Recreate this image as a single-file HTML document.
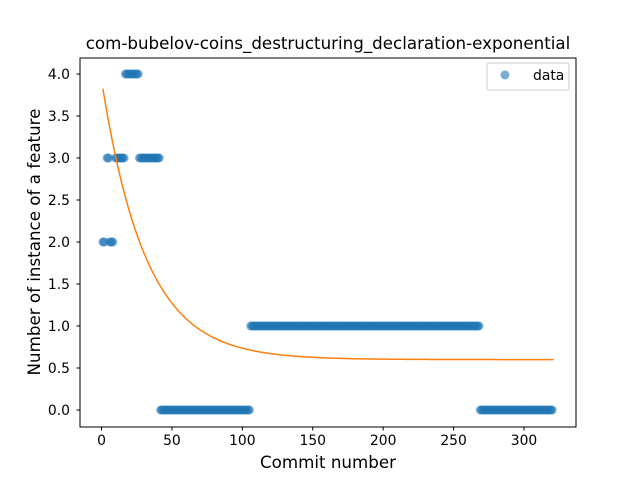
<!DOCTYPE html>
<html><head><meta charset="utf-8"><style>body{margin:0;background:#fff}svg{display:block;font-family:"DejaVu Sans","Liberation Sans",sans-serif}</style></head>
<body>
<svg id="chart" width="640" height="480"></svg>
<script>
const runStarts = [1, 4, 6, 10, 17, 27, 42, 106, 269];
const runEnds   = [2, 5, 8, 16, 26, 41, 105, 268, 320];
const runValues = [2, 3, 2, 3, 4, 3, 0, 1, 0];
const fitA = 3.33, fitB = 0.032, fitC = 0.6;
const xTicks = [0, 50, 100, 150, 200, 250, 300];
const yTicks = [0, 0.5, 1, 1.5, 2, 2.5, 3, 3.5, 4];
const yTickLabels = ["0.0","0.5","1.0","1.5","2.0","2.5","3.0","3.5","4.0"];

const L=80,R=576,T=58,B=427;
const xs=v=>101.5+v*(524-101.5)/300;
const ys=v=>410-v*84;
const svg=document.getElementById('chart');
const NS='http://www.w3.org/2000/svg';
function mk(tag,attrs,parent){const e=document.createElementNS(NS,tag);for(const k in attrs)e.setAttribute(k,attrs[k]);(parent||svg).appendChild(e);return e;}

const pts=mk('g',{});


for(let r=0;r<runStarts.length;r++){
  for(let c=runStarts[r];c<=runEnds[r];c++){
    const p=mk('circle',{cx:xs(c),cy:ys(runValues[r]),r:4.5,fill:'#1f77b4','fill-opacity':0.6},pts);
    
    
  }
}
let d='';
for(let x=1;x<=321;x+=1){const y=fitA*Math.exp(-fitB*x)+fitC;d+=(x===1?'M':'L')+xs(x).toFixed(2)+','+ys(y).toFixed(2);}
const fit=mk('path',{d:d,fill:'none',stroke:'#ff7f0e','stroke-width':1.5});



const frame=mk('rect',{x:L,y:T,width:R-L,height:B-T,fill:'none',stroke:'#000','stroke-width':1});



xTicks.forEach(t=>{
  const x=xs(t);
  mk('line',{x1:x,x2:x,y1:B,y2:B+3.5,stroke:'#000'});
  const tx=mk('text',{x:x,y:B+18,'text-anchor':'middle','font-size':13.9});
  tx.textContent=t;
  
  
});
yTicks.forEach((t,i)=>{
  const y=ys(t);
  mk('line',{x1:L-3.5,x2:L,y1:y,y2:y,stroke:'#000'});
  const tx=mk('text',{x:L-10,y:y+5,'text-anchor':'end','font-size':13.9});
  tx.textContent=yTickLabels[i];
  
  
});
</script>
<div style="position:absolute;left:0;top:0;width:640px;height:480px;pointer-events:none">
<svg width="640" height="480" style="font-family:'DejaVu Sans','Liberation Sans',sans-serif">
<text x="328" y="49" text-anchor="middle" font-size="16.7">com-bubelov-coins_destructuring_declaration-exponential</text>
<text x="328" y="468" text-anchor="middle" font-size="16.7">Commit number</text>
<text transform="translate(40,242) rotate(-90)" text-anchor="middle" font-size="16.7">Number of instance of a feature</text>
<g>
<rect x="487" y="63" width="82" height="27" rx="2" fill="#fff" fill-opacity="0.8" stroke="#ccc"/>
<circle cx="505" cy="75" r="4.5" fill="#1f77b4" fill-opacity="0.6"/>
<text x="533" y="80" font-size="13.9">data</text>
</g>
</svg></div>
</body></html>
